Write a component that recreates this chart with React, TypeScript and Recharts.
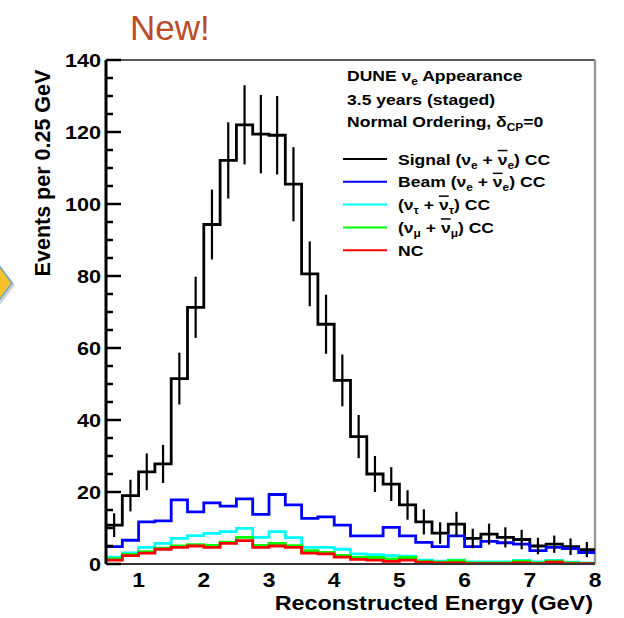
import React from 'react';
import {
  ComposedChart, Line, Scatter, ErrorBar, XAxis, YAxis, ReferenceLine,
} from 'recharts';

// bin low edges (GeV), 0.25 GeV wide
const binEdges = [
  0.5, 0.75, 1.0, 1.25, 1.5, 1.75, 2.0, 2.25, 2.5, 2.75,
  3.0, 3.25, 3.5, 3.75, 4.0, 4.25, 4.5, 4.75, 5.0, 5.25,
  5.5, 5.75, 6.0, 6.25, 6.5, 6.75, 7.0, 7.25, 7.5, 7.75,
];
const lastEdge = 8.0;
const binWidth = 0.25;

const signal = [
  10.8, 19.0, 25.6, 27.8, 51.5, 71.3, 94.3, 112.1, 122.0, 119.4,
  119.1, 105.5, 80.6, 66.6, 51.0, 35.4, 25.0, 22.2, 16.4, 11.7,
  8.6, 11.1, 7.1, 8.3, 7.4, 6.8, 5.0, 5.5, 4.8, 4.0,
];
const signalErr = [
  3.3, 4.4, 5.1, 5.3, 7.2, 8.5, 9.7, 10.6, 11.0, 10.9,
  10.9, 10.3, 9.0, 8.2, 7.2, 6.0, 5.0, 4.7, 4.1, 3.5,
  3.0, 3.4, 2.7, 2.9, 2.8, 2.7, 2.3, 2.4, 2.3, 2.1,
];
const beam = [
  4.8, 6.6, 11.7, 12.0, 17.8, 14.5, 17.0, 16.1, 18.1, 13.8,
  19.3, 16.4, 12.7, 13.1, 10.8, 7.8, 7.8, 10.2, 7.8, 6.0,
  4.8, 7.8, 4.8, 6.3, 5.9, 5.5, 3.7, 4.6, 4.3, 3.2,
];
const nuTau = [
  1.9, 3.1, 4.6, 5.75, 7.1, 7.9, 8.5, 9.0, 9.9, 7.4,
  9.0, 7.3, 4.6, 4.6, 4.1, 2.8, 2.6, 2.3, 2.2, 1.1,
  0.8, 1.1, 0.6, 0.6, 0.6, 1.0, 0.6, 1.0, 0.5, 0.3,
];
const nuMu = [
  1.5, 2.7, 3.4, 4.4, 5.0, 5.4, 5.2, 6.1, 7.4, 5.2,
  5.7, 5.1, 3.7, 3.2, 2.4, 1.8, 1.8, 1.4, 1.8, 0.8,
  0.5, 0.9, 0.3, 0.3, 0.3, 0.8, 0.3, 0.8, 0.3, 0.2,
];
const nc = [
  1.1, 2.3, 3.0, 4.1, 4.6, 5.0, 4.6, 5.75, 6.5, 4.6,
  5.0, 4.6, 3.0, 2.8, 1.9, 1.3, 1.1, 0.75, 1.1, 0.5,
  0.3, 0.3, 0.1, 0.1, 0.1, 0.3, 0.1, 0.5, 0.1, 0.1,
];

const xTicks = [1, 2, 3, 4, 5, 6, 7, 8];
const yTicks = [
  0, 5, 10, 15, 20, 25, 30, 35, 40, 45, 50, 55, 60, 65, 70,
  75, 80, 85, 90, 95, 100, 105, 110, 115, 120, 125, 130, 135, 140,
];

const FONT = '"Liberation Sans", Arial, Helvetica, sans-serif';
const SX = 1.17; // the source picture is a bit stretched sideways

// step histogram points: one per low edge, last value repeated at the upper edge
const steps = [...binEdges, lastEdge].map((x, i) => {
  const j = Math.min(i, binEdges.length - 1);
  return { x, signal: signal[j], beam: beam[j], nuTau: nuTau[j], nuMu: nuMu[j], nc: nc[j] };
});

const centers = binEdges.map((x, i) => ({ x: x + binWidth / 2, y: signal[i], err: signalErr[i] }));

const YTick = ({ x, y, payload }: any) => {
  const major = payload.value % 20 === 0;
  const axisX = x + 5;
  return (
    <g>
      <line x1={axisX} x2={axisX + (major ? 15 : 7)} y1={y} y2={y} stroke="#000" strokeWidth={2.5} />
      {major && (
        <g transform={`translate(${x},${y}) scale(${SX},1)`}>
          <text x={0} y={0} dy="0.36em" textAnchor="end" fontFamily={FONT} fontWeight="bold" fontSize={18.5} fill="#000">
            {payload.value}
          </text>
        </g>
      )}
    </g>
  );
};

const XTick = ({ x, y, payload }: any) => (
  <g transform={`translate(${x},${y}) scale(${SX},1)`}>
    <text x={0} y={0} dy="0.71em" textAnchor="middle" fontFamily={FONT} fontWeight="bold" fontSize={19.5} fill="#000">
      {payload.value}
    </text>
  </g>
);

// label pieces: [text, kind] with kind '' normal, 'sub' subscript, 'bar' overlined
type Piece = [string, string?];

const Rich = ({ x, y, parts, size = 15 }: { x: number; y: number; parts: Piece[]; size?: number }) => {
  let shift = 0;
  return (
    <g transform={`translate(${x},${y}) scale(${SX},1)`}>
      <text x={0} y={0} fontFamily={FONT} fontWeight="bold" fontSize={size} fill="#000">
        {parts.map(([t, kind], i) => {
          const target = kind === 'sub' ? 4 : 0;
          const dy = target - shift;
          shift = target;
          return (
            <tspan
              key={i}
              dy={dy}
              fontSize={kind === 'sub' ? size * 0.68 : size}
              style={kind === 'bar' ? { textDecoration: 'overline' } : undefined}
            >
              {t}
            </tspan>
          );
        })}
      </text>
    </g>
  );
};

const legendItems: { color: string; parts: Piece[] }[] = [
  { color: '#000000', parts: [['Signal (ν'], ['e', 'sub'], [' + '], ['ν', 'bar'], ['e', 'sub'], [') CC']] },
  { color: '#0000ff', parts: [['Beam (ν'], ['e', 'sub'], [' + '], ['ν', 'bar'], ['e', 'sub'], [') CC']] },
  { color: '#00ffff', parts: [['(ν'], ['τ', 'sub'], [' + '], ['ν', 'bar'], ['τ', 'sub'], [') CC']] },
  { color: '#00ff00', parts: [['(ν'], ['μ', 'sub'], [' + '], ['ν', 'bar'], ['μ', 'sub'], [') CC']] },
  { color: '#ff0000', parts: [['NC']] },
];

export default function App() {
  return (
    <div style={{ position: 'absolute', left: 0, top: 0, width: 624, height: 618, background: '#fff' }}>
      <ComposedChart width={624} height={618} data={steps} margin={{ top: 60, right: 29, bottom: 0, left: 0 }}>
        <XAxis
          type="number"
          dataKey="x"
          domain={[0.5, 8]}
          ticks={xTicks}
          allowDataOverflow
          height={54}
          tickLine={false}
          tickSize={0}
          tickMargin={9}
          tick={<XTick />}
          axisLine={{ stroke: '#333', strokeWidth: 2 }}
        />
        <YAxis
          type="number"
          domain={[0, 140]}
          ticks={yTicks}
          interval={0}
          allowDataOverflow
          width={106}
          tickLine={false}
          tickSize={0}
          tickMargin={5}
          tick={<YTick />}
          axisLine={{ stroke: '#000', strokeWidth: 3 }}
        />
        <ReferenceLine y={140} stroke="#222" strokeWidth={1.5} />
        <ReferenceLine x={8} stroke="#999" strokeWidth={2.5} />
        <Line type="stepAfter" dataKey="signal" stroke="#000" strokeWidth={2.8} dot={false} isAnimationActive={false} />
        <Line type="stepAfter" dataKey="beam" stroke="#0000ff" strokeWidth={2.8} dot={false} isAnimationActive={false} />
        <Line type="stepAfter" dataKey="nuTau" stroke="#00ffff" strokeWidth={2.8} dot={false} isAnimationActive={false} />
        <Line type="stepAfter" dataKey="nuMu" stroke="#00ff00" strokeWidth={2.8} dot={false} isAnimationActive={false} />
        <Line type="stepAfter" dataKey="nc" stroke="#ff0000" strokeWidth={2.8} dot={false} isAnimationActive={false} />
        <Scatter data={centers} dataKey="y" shape={() => <g />} isAnimationActive={false}>
          <ErrorBar dataKey="err" direction="y" width={0} stroke="#000" strokeWidth={2.2} isAnimationActive={false} />
        </Scatter>
      </ComposedChart>

      <svg width={624} height={618} style={{ position: 'absolute', left: 0, top: 0, pointerEvents: 'none' }}>
        <polygon points="-2,264 13,283 -2,303" fill="#9aa" opacity={0.5} transform="translate(2,2)" />
        <polygon points="-2,264 12,283 -2,302" fill="#f6c12b" stroke="#6aa8c8" strokeWidth={1.5} />
        <text x={130} y={40} fontFamily={FONT} fontSize={35} fill="#bd4b27">New!</text>
        <text
          transform="translate(50,173) rotate(-90)"
          textAnchor="middle"
          fontFamily={FONT}
          fontWeight="bold"
          fontSize={21.5}
          fill="#000"
        >
          Events per 0.25 GeV
        </text>
        <g transform={`translate(593,610) scale(${SX},1)`}>
          <text x={0} y={0} textAnchor="end" fontFamily={FONT} fontWeight="bold" fontSize={20} fill="#000">
            Reconstructed Energy (GeV)
          </text>
        </g>
        <Rich x={347} y={81} parts={[['DUNE ν'], ['e', 'sub'], [' Appearance']]} />
        <Rich x={347} y={105} parts={[['3.5 years (staged)']]} />
        <Rich x={347} y={127} parts={[['Normal Ordering, δ'], ['CP', 'sub'], ['=0']]} />
        {legendItems.map((it, i) => (
          <g key={i}>
            <line x1={343} x2={387} y1={159 + i * 22.8} y2={159 + i * 22.8} stroke={it.color} strokeWidth={2} />
            <Rich x={398} y={164.5 + i * 22.8} parts={it.parts} />
          </g>
        ))}
      </svg>
    </div>
  );
}
